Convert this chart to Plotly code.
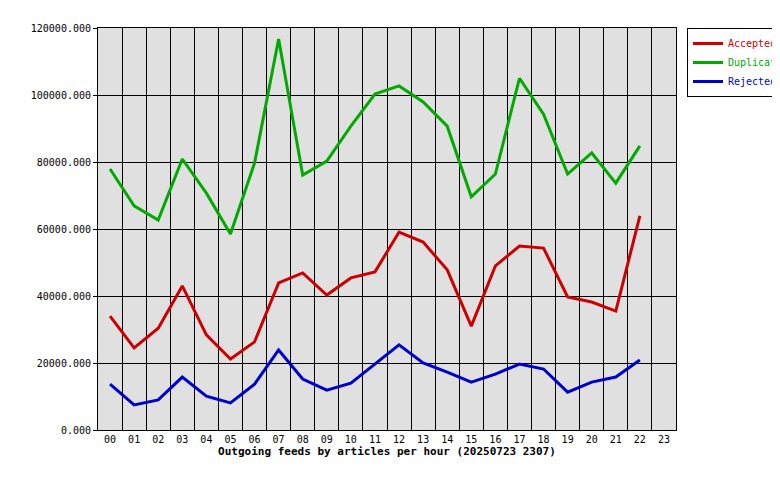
import plotly.graph_objects as go

hours = [f"{h:02d}" for h in range(24)]
accepted = [34000,24500,30400,43000,28400,21200,26300,43900,46900,40300,45400,47200,59100,56100,47800,31000,49000,54900,54300,39700,38200,35500,63900]
duplicates = [77900,66900,62700,80900,70700,58500,79700,116700,76100,80300,90700,100300,102700,97900,90700,69600,76400,105000,94300,76400,82700,73700,84800]
rejected = [13700,7500,9000,15800,10100,8100,13700,23900,15200,11900,14000,19700,25400,20000,17300,14300,16700,19700,18200,11300,14300,15800,20900]
yticks = list(range(0, 120001, 20000))

fnt = "DejaVu Sans Mono"
fig = go.Figure()
for name, vals, col in [("Accepted", accepted, "#cc0000"), ("Duplicates", duplicates, "#00aa00"), ("Rejected", rejected, "#0000cc")]:
    fig.add_trace(go.Scatter(x=list(range(len(vals))), y=vals,
                             name=f"<span style='color:{col}'>{name}</span>", mode="lines",
                             line=dict(color=col, width=3)))

fig.update_layout(
    width=780, height=480, margin=dict(l=90, r=112, t=20, b=58, autoexpand=False),
    paper_bgcolor="white", plot_bgcolor="#e0e0e0",
    font=dict(family=fnt, size=10, color="black"),
    showlegend=True,
    legend=dict(x=1.019, y=1, xanchor="left", yanchor="top", bordercolor="black", borderwidth=1,
                font=dict(size=10), itemwidth=30, tracegroupgap=0),
    xaxis=dict(range=[-0.5, 23.5], tickvals=list(range(24)), ticktext=hours, showgrid=False,
               automargin=False,
               showline=True, linecolor="black", mirror=True, zeroline=False, ticks="",
               minor=dict(tick0=-0.5, dtick=1, showgrid=True, gridcolor="black", gridwidth=1),
               title=dict(text="<b>Outgoing feeds by articles per hour (20250723 2307)</b>", standoff=2,
                          font=dict(size=11))),
    yaxis=dict(range=[0, 120000], tickvals=yticks, ticktext=[f"{v}.000" for v in yticks],
               automargin=False,
               showgrid=True, gridcolor="black", showline=True, linecolor="black", mirror=True,
               zeroline=False, ticks="outside", ticklen=4, tickcolor="black"),
)
fig.write_html("out.html")
